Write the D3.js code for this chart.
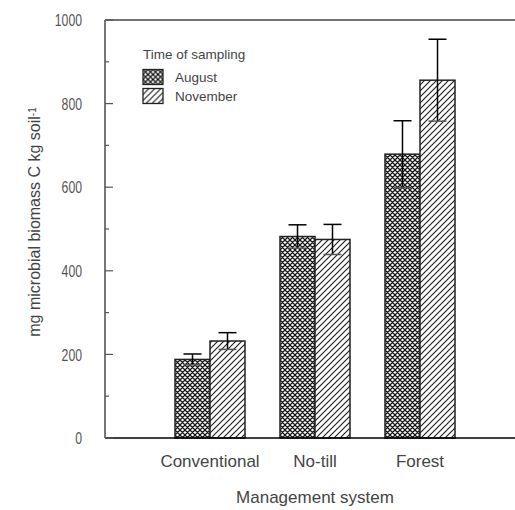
<!DOCTYPE html>
<html><head><meta charset="utf-8">
<script src="https://cdn.jsdelivr.net/npm/d3@7"></script>
<style>
html,body{margin:0;padding:0;background:#fff;}
svg{display:block;font-family:"Liberation Sans",Arial,Helvetica,sans-serif;}
</style></head>
<body><svg id="c" width="515" height="510"></svg>
<script>
const categories = ["Conventional", "No-till", "Forest"];
const seriesNames = ["August", "November"];
const august = [188, 482, 679];
const augustErr = [13, 28, 80];
const november = [232, 475, 856];
const novemberErr = [20, 36, 98];
const yTicks = [0, 200, 400, 600, 800, 1000];
const yMinorTicks = [100, 300, 500, 700, 900];

const svg = d3.select("#c");
const defs = svg.append("defs");
// cross-hatch (August)
const p1 = defs.append("pattern").attr("id","cross").attr("patternUnits","userSpaceOnUse")
  .attr("width",5).attr("height",5);
p1.append("rect").attr("width",5).attr("height",5).attr("fill","#fff");
p1.append("path").attr("d","M-1,-1L6,6M-1,6L6,-1M-1,4L1,6M4,-1L6,1M-1,1L1,-1M4,6L6,4")
  .attr("stroke","#1a1a1a").attr("stroke-width",1.3);
// diagonal hatch (November)
const p2 = defs.append("pattern").attr("id","diag").attr("patternUnits","userSpaceOnUse")
  .attr("width",6).attr("height",6);
p2.append("rect").attr("width",6).attr("height",6).attr("fill","#fff");
p2.append("path").attr("d","M0,6L6,0M-3,3L3,-3M3,9L9,3")
  .attr("stroke","#222").attr("stroke-width",1.2);

const fills = ["url(#cross)","url(#diag)"];
const x = d3.scaleBand().domain(categories).range([140,490]).padding(1/3);
const xs = d3.scaleBand().domain(seriesNames).range([0, x.bandwidth()]);
const y = d3.scaleLinear().domain([0,1000]).range([438,20]);

const data = categories.map((c,i)=>({cat:c, vals:[
  {s:"August", v:august[i], e:augustErr[i]},
  {s:"November", v:november[i], e:novemberErr[i]}]}));

// frame top line
svg.append("line").attr("x1",105).attr("x2",515).attr("y1",y(1000)).attr("y2",y(1000))
  .attr("stroke","#444").attr("stroke-width",1.5);

const g = svg.selectAll("g.grp").data(data).enter().append("g")
  .attr("transform", d=>`translate(${x(d.cat)},0)`);
g.selectAll("rect").data(d=>d.vals).enter().append("rect")
  .attr("x", d=>xs(d.s)).attr("width", xs.bandwidth())
  .attr("y", d=>y(d.v)).attr("height", d=>y(0)-y(d.v))
  .attr("fill",(d,i)=>fills[i]).attr("stroke","#222").attr("stroke-width",1.5);
// error bars
g.selectAll("g.err").data(d=>d.vals).enter().append("g").each(function(d){
  const cx = xs(d.s)+xs.bandwidth()/2, e = d3.select(this);
  e.append("line").attr("x1",cx).attr("x2",cx).attr("y1",y(d.v+d.e)).attr("y2",y(d.v-d.e))
    .attr("stroke","#000").attr("stroke-width",1.5);
  [d.v+d.e, d.v-d.e].forEach(v=>{
    e.append("line").attr("x1",cx-9).attr("x2",cx+9).attr("y1",y(v)).attr("y2",y(v))
      .attr("stroke", v>d.v ? "#000" : "#555").attr("stroke-width",1.5);
  });
});

// bottom line
svg.append("line").attr("x1",105).attr("x2",515).attr("y1",y(0)).attr("y2",y(0))
  .attr("stroke","#000").attr("stroke-width",1.5);
// left axis line
svg.append("line").attr("x1",105).attr("x2",105).attr("y1",y(1000)).attr("y2",y(0))
  .attr("stroke","#777").attr("stroke-width",2);
// ticks
svg.selectAll("line.maj").data(yTicks).enter().append("line")
  .attr("x1",105).attr("x2",113).attr("y1",d=>y(d)).attr("y2",d=>y(d))
  .attr("stroke","#555").attr("stroke-width",1.2);
svg.selectAll("line.min").data(yMinorTicks).enter().append("line")
  .attr("x1",105).attr("x2",109).attr("y1",d=>y(d)).attr("y2",d=>y(d))
  .attr("stroke","#555").attr("stroke-width",1.2);
svg.selectAll("text.yt").data(yTicks).enter().append("text")
  .attr("transform", d=>`translate(82,${y(d)}) scale(0.72,1)`)
  .attr("text-anchor","end").attr("dy","0.36em")
  .attr("font-size",17).attr("fill","#555").text(d=>d);

// x labels
svg.selectAll("text.xt").data(categories).enter().append("text")
  .attr("x", d=>x(d)+x.bandwidth()/2).attr("y",467)
  .attr("text-anchor","middle").attr("font-size",17).attr("fill","#444").text(d=>d);
svg.append("text").attr("x",315).attr("y",503).attr("text-anchor","middle")
  .attr("font-size",17).attr("fill","#444").text("Management system");

// y title
const yt = svg.append("text").attr("transform","translate(40,222) rotate(-90)")
  .attr("text-anchor","middle").attr("font-size",16).attr("fill","#444");
yt.append("tspan").text("mg microbial biomass C kg soil");
yt.append("tspan").attr("dy","-0.45em").attr("font-size",10).text("-1");

// legend
svg.append("text").attr("x",143).attr("y",59).attr("font-size",13.5).attr("fill","#444").text("Time of sampling");
const lg = svg.selectAll("g.lg").data(seriesNames).enter().append("g")
  .attr("transform",(d,i)=>`translate(143,${69.5+i*19})`);
lg.append("rect").attr("width",20).attr("height",15).attr("fill",(d,i)=>fills[i])
  .attr("stroke","#222").attr("stroke-width",1.3);
lg.append("text").attr("x",32).attr("y",12.5).attr("font-size",13.5).attr("fill","#444").text(d=>d);
</script></body></html>
